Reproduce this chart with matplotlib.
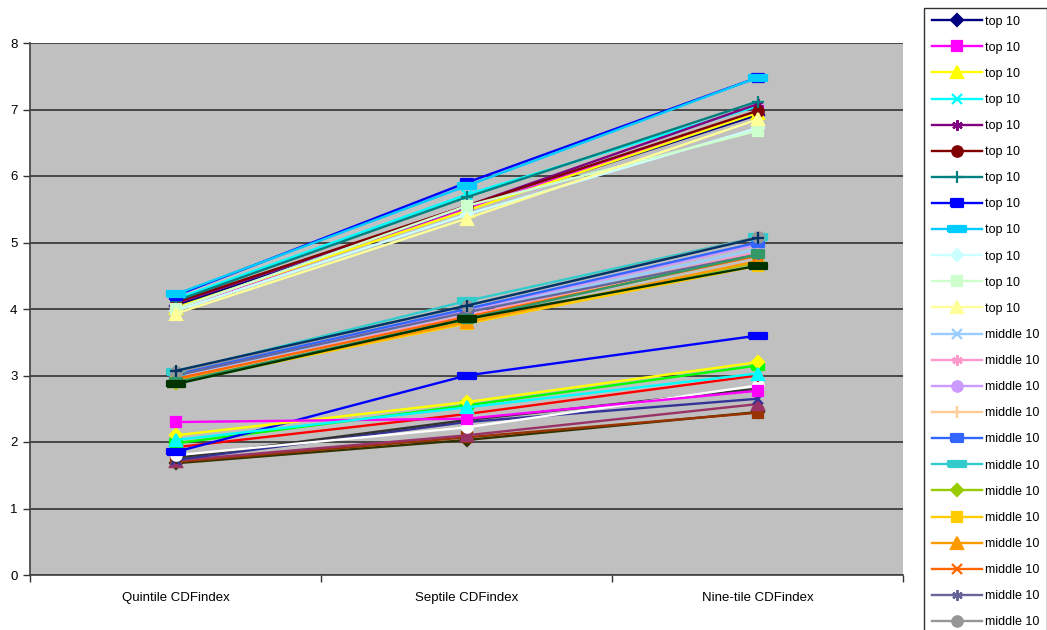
import matplotlib
matplotlib.use("Agg")
import matplotlib.pyplot as plt
import numpy as np

plt.rcParams['font.family'] = ['Liberation Sans', 'DejaVu Sans']

categories = ['Quintile CDFindex', 'Septile CDFindex', 'Nine-tile CDFindex']

# one row per series: quintile, septile, nine-tile
top10 = [
    [4.05, 5.50, 6.92],
    [4.00, 5.50, 6.97],
    [4.02, 5.48, 6.95],
    [4.15, 5.72, 7.05],
    [4.08, 5.55, 7.08],
    [4.10, 5.55, 6.98],
    [4.12, 5.68, 7.12],
    [4.20, 5.90, 7.48],
    [4.22, 5.85, 7.48],
    [3.97, 5.42, 6.72],
    [4.00, 5.55, 6.68],
    [3.93, 5.36, 6.85],
]
middle10 = [
    [2.97, 3.95, 4.90],
    [2.95, 3.90, 4.85],
    [3.00, 3.98, 4.97],
    [2.93, 3.88, 4.82],
    [3.02, 4.00, 5.00],
    [3.05, 4.12, 5.08],
    [2.88, 3.82, 4.70],
    [2.90, 3.78, 4.65],
    [2.92, 3.80, 4.72],
    [2.95, 3.88, 4.80],
    [3.00, 3.95, 4.82],
    [3.05, 4.05, 5.08],
    [3.07, 4.05, 5.07],
    [2.90, 3.85, 4.82],
    [2.87, 3.85, 4.65],
]
bottom10 = [
    [1.68, 2.03, 2.45],
    [1.70, 2.07, 2.44],
    [1.72, 2.10, 2.57],
    [1.73, 2.30, 2.65],
    [1.76, 2.33, 2.80],
    [1.80, 2.22, 2.85],
    [1.92, 2.42, 3.00],
    [1.98, 2.55, 3.15],
    [1.85, 3.00, 3.60],
    [2.10, 2.60, 3.20],
    [2.30, 2.35, 2.77],
    [2.03, 2.52, 3.03],
]

colors = ['#000080', '#FF00FF', '#FFFF00', '#00FFFF', '#800080', '#800000',
          '#008080', '#0000FF', '#00CCFF', '#CCFFFF', '#CCFFCC', '#FFFF99',
          '#99CCFF', '#FF99CC', '#CC99FF', '#FFCC99', '#3366FF', '#33CCCC',
          '#99CC00', '#FFCC00', '#FF9900', '#FF6600', '#666699', '#969696',
          '#003366', '#339966', '#003300', '#333300', '#993300', '#993366',
          '#333399', '#333333', '#FFFFFF', '#FF0000', '#00FF00', '#0000FF',
          '#FFFF00', '#FF00FF', '#00FFFF']

dash = [(-0.8, -0.5), (0.8, -0.5), (0.8, 0.5), (-0.8, 0.5), (-0.8, -0.5)]
longdash = [(-1.3, -0.45), (1.3, -0.45), (1.3, 0.45), (-1.3, 0.45), (-1.3, -0.45)]
# excel marker cycle: diamond, square, triangle, x, star, circle, plus, dash, long dash
markers = [('D', 6), ('s', 7.5), ('^', 8), ('x', 6.5), ((6, 2, 0), 7.5), ('o', 7.5),
           ('+', 8), (dash, 8.5), (longdash, 12.5)]

series = [('top 10', r) for r in top10] + [('middle 10', r) for r in middle10] + \
         [('bottom 10', r) for r in bottom10]

fig = plt.figure(figsize=(10.47, 6.3), dpi=100)
ax = fig.add_axes([30 / 1047, 1 - 575 / 630, 873 / 1047, 532 / 630])
ax.set_facecolor('#C0C0C0')

x = np.arange(len(categories))
handles = []
for i, (label, vals) in enumerate(series):
    m, ms = markers[i % 9]
    ln, = ax.plot(x, vals, color=colors[i], lw=1.7, marker=m, ms=ms,
                  mfc=colors[i], mec=colors[i], mew=1.6, label=label, zorder=3 + i * 0.01)
    handles.append(ln)

ax.set_xlim(-0.5, 2.5)
ax.set_ylim(0, 8)
ax.set_yticks(range(9))
ax.set_xticks(x)
ax.set_xticklabels(categories)
ax.set_xticks([-0.5, 0.5, 1.5, 2.5], minor=True)
ax.tick_params(axis='x', which='major', length=0, pad=12, labelsize=9.5)
ax.tick_params(axis='x', which='minor', length=5, width=1, color='#333333')
ax.tick_params(axis='y', length=5, width=1, color='#333333', pad=4, labelsize=9.5)
ax.yaxis.grid(True, color='#333333', lw=1.2)
ax.set_axisbelow(True)
for s in ['top', 'right']:
    ax.spines[s].set_visible(False)
for s in ['left', 'bottom']:
    ax.spines[s].set_color('#404040')
    ax.spines[s].set_linewidth(1.2)

# only the entries that fit on the page
shown = handles[:24]
leg = fig.legend(shown, [h.get_label() for h in shown], loc='upper left',
                 bbox_to_anchor=(924 / 1047, 1 - 8 / 630),
                 fontsize=9, frameon=True, fancybox=False, edgecolor='black',
                 handlelength=4.0, labelspacing=1.13, handletextpad=0.3,
                 borderpad=0.6, borderaxespad=0)
leg.get_frame().set_linewidth(1.0)

fig.savefig('out.png', dpi=100, facecolor='white')
